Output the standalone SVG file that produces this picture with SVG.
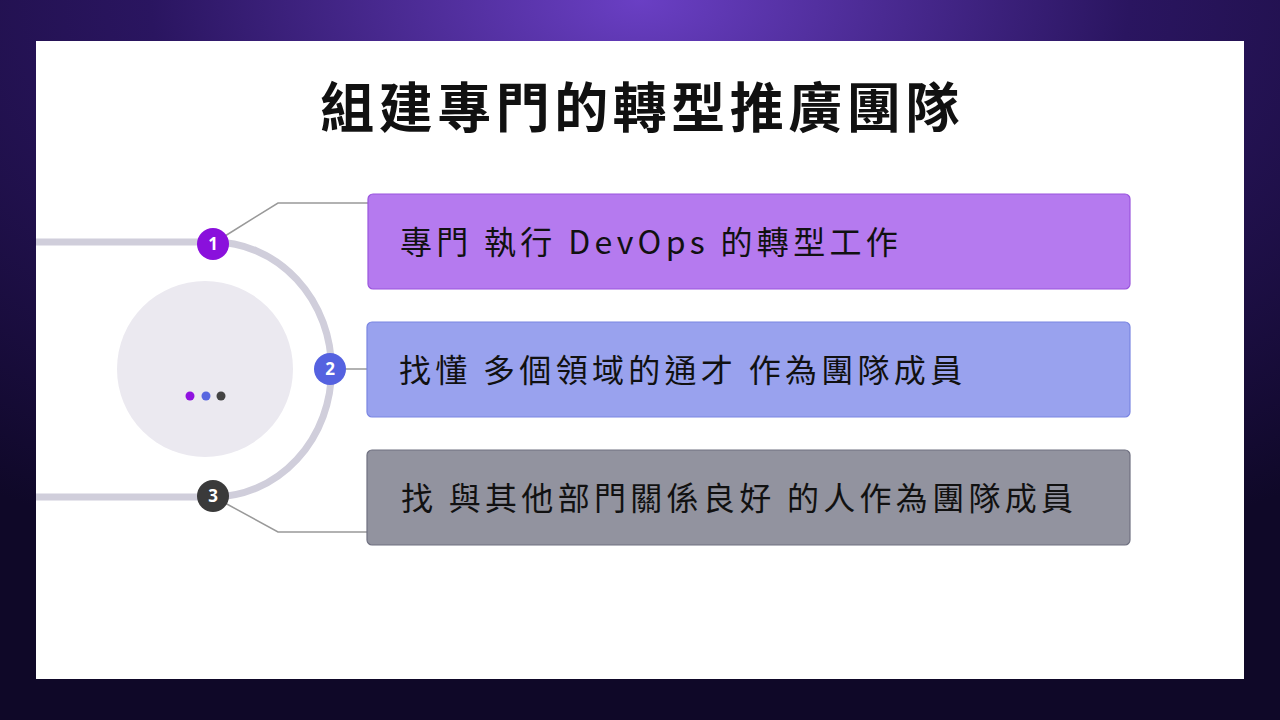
<svg xmlns="http://www.w3.org/2000/svg" width="1280" height="720" viewBox="0 0 1280 720">
<defs>
<radialGradient id="bg" cx="50%" cy="0%" r="85%">
<stop offset="0" stop-color="#6a3fc4"/><stop offset="0.45" stop-color="#2a1560"/><stop offset="1" stop-color="#0f0828"/>
</radialGradient>
<style>
.t{font-family:"Noto Sans CJK TC","Noto Sans",sans-serif;font-size:32px;fill:#111;letter-spacing:4.3px;}
.n{font-family:"Noto Sans","DejaVu Sans",sans-serif;font-size:17px;font-weight:bold;fill:#fff;text-anchor:middle;}
.box{stroke-width:1.2;}
.thin{fill:none;stroke:#999;stroke-width:1.5;}
</style>
</defs>
<rect width="1280" height="720" fill="url(#bg)"/>
<rect x="36" y="41" width="1208" height="638" fill="#fff"/>
<text x="642" y="128" text-anchor="middle" font-family="Noto Sans CJK TC, sans-serif" font-size="54" font-weight="600" letter-spacing="4.5" fill="#111">組建專門的轉型推廣團隊</text>
<g id="connectors">
<path d="M36 242 H213 A118 127 0 0 1 213 497 H36" fill="none" stroke="#d0cedb" stroke-width="7"/>
<path class="thin" d="M225 236 L278 203 H368"/>
<path class="thin" d="M346 369 H368"/>
<path class="thin" d="M225 503 L278 532 H368"/>
</g>
<g id="center">
<circle cx="205" cy="369" r="88" fill="#ebe9f0"/>
<circle cx="190" cy="396" r="4.5" fill="#9012e0"/>
<circle cx="206" cy="396" r="4.5" fill="#5866e0"/>
<circle cx="221" cy="396" r="4.5" fill="#444"/>
</g>
<g id="n1"><circle cx="213" cy="244" r="16" fill="#8a10dc"/><text class="n" x="213" y="250">1</text></g>
<g id="n2"><circle cx="330" cy="369" r="16" fill="#5562e0"/><text class="n" x="330" y="375">2</text></g>
<g id="n3"><circle cx="213" cy="496" r="16" fill="#3a3a3a"/><text class="n" x="213" y="502">3</text></g>
<g id="b1"><rect class="box" x="368" y="194" width="762" height="95" rx="5" fill="#b57aef" stroke="#9a55dd"/><text class="t" x="400" y="254">專門 執行 DevOps 的轉型工作</text></g>
<g id="b2"><rect class="box" x="367" y="322" width="763" height="95" rx="5" fill="#99a2ee" stroke="#7a85e2"/><text class="t" x="399" y="382" letter-spacing="6">找懂 多個領域的通才 作為團隊成員</text></g>
<g id="b3"><rect class="box" x="367" y="450" width="763" height="95" rx="5" fill="#92939f" stroke="#6f7080"/><text class="t" x="401" y="510" letter-spacing="6">找 與其他部門關係良好 的人作為團隊成員</text></g>
</svg>
